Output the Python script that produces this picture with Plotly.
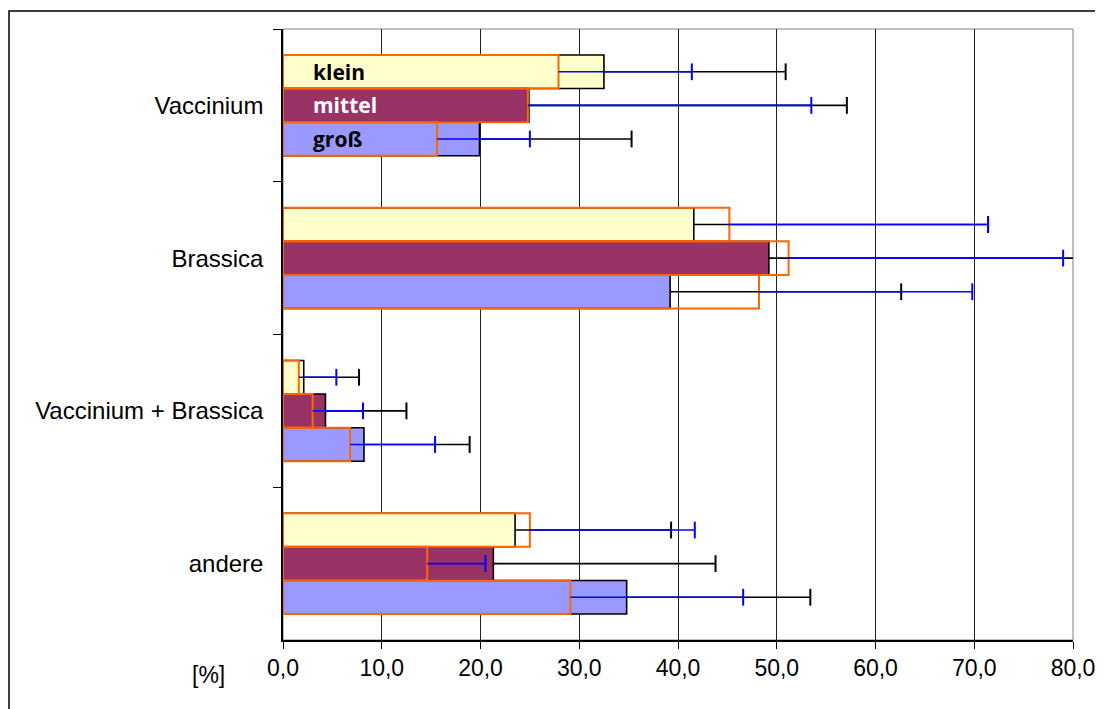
import plotly.graph_objects as go

# ---------------- data ----------------
categories = ["Vaccinium", "Brassica", "Vaccinium + Brassica", "andere"]
sizes = ["klein", "mittel", "groß"]

# series with black outline (filled bars, black error bars)
a_klein = [32.5, 41.6, 2.1, 23.5]
a_mittel = [24.9, 49.2, 4.3, 21.3]
a_gross = [19.9, 39.2, 8.2, 34.8]
a_err_klein = [18.4, 29.8, 5.6, 15.8]
a_err_mittel = [32.2, 31.5, 8.2, 22.5]
a_err_gross = [15.4, 23.4, 10.7, 18.6]

# series with orange outline (hollow bars, blue error bars)
b_klein = [27.9, 45.2, 1.6, 25.0]
b_mittel = [24.8, 51.2, 3.0, 14.6]
b_gross = [15.6, 48.2, 6.8, 29.1]
b_err_klein = [13.5, 26.2, 3.8, 16.7]
b_err_mittel = [28.7, 27.8, 5.1, 5.9]
b_err_gross = [9.4, 21.6, 8.6, 17.5]

x_ticks = [0, 10, 20, 30, 40, 50, 60, 70, 80]
unit_label = "[%]"

# ---------------- styles ----------------
fills = ["#FFFFCC", "#993366", "#9999FF"]
label_colors = ["black", "white", "black"]
BAR_W = 0.22
OFFSETS = [-0.33, -0.11, 0.11]
FONT = "Liberation Sans, Arial, sans-serif"

a_vals = [a_klein, a_mittel, a_gross]
a_errs = [a_err_klein, a_err_mittel, a_err_gross]
b_vals = [b_klein, b_mittel, b_gross]
b_errs = [b_err_klein, b_err_mittel, b_err_gross]

fig = go.Figure()

# black-outlined bars
for k in range(3):
    fig.add_trace(go.Bar(
        orientation="h", x=a_vals[k], y=categories, width=BAR_W, offset=OFFSETS[k],
        marker=dict(color=fills[k], line=dict(color="black", width=1.6)),
        showlegend=False, hoverinfo="skip"))

# orange-outlined bars (hollow)
for k in range(3):
    fig.add_trace(go.Bar(
        orientation="h", x=b_vals[k], y=categories, width=BAR_W, offset=OFFSETS[k],
        marker=dict(color="rgba(0,0,0,0)", line=dict(color="#FF6600", width=2)),
        showlegend=False, hoverinfo="skip"))


def err_traces(vals, errs, color):
    for k in range(3):
        xs, ys, cx, cy = [], [], [], []
        for i in range(len(categories)):
            yc = i + OFFSETS[k] + BAR_W / 2
            xs += [vals[k][i], vals[k][i] + errs[k][i], None]
            ys += [yc, yc, None]
            cx.append(vals[k][i] + errs[k][i])
            cy.append(yc)
        fig.add_trace(go.Scatter(
            x=xs, y=ys, yaxis="y2", mode="lines",
            line=dict(color=color, width=1.6), showlegend=False, hoverinfo="skip"))
        fig.add_trace(go.Scatter(
            x=cx, y=cy, yaxis="y2", mode="markers",
            marker=dict(symbol="line-ns", size=12, line=dict(color=color, width=2)),
            showlegend=False, hoverinfo="skip"))


err_traces(a_vals, a_errs, "black")
err_traces(b_vals, b_errs, "#0000FF")

annotations = []
for k in range(3):
    annotations.append(dict(
        xref="x", yref="y2", x=2.85, y=0 + OFFSETS[k] + BAR_W / 2,
        text="<b>" + sizes[k] + "</b>", showarrow=False, xanchor="left", yanchor="middle",
        font=dict(family="Open Sans, DejaVu Sans, sans-serif", size=21, color=label_colors[k])))

annotations.append(dict(
    xref="paper", yref="paper", x=(208 - 283) / 790, y=(640 - 675) / 611,
    text=unit_label, showarrow=False, xanchor="center", yanchor="middle",
    font=dict(family=FONT, size=23, color="black")))

# page body has an 8px margin: figure sized to fit the window
fig.update_layout(
    width=1095, height=701,
    margin=dict(l=275, r=30, t=21, b=69, pad=0, autoexpand=False),
    paper_bgcolor="white", plot_bgcolor="white",
    separators=", ",
    font=dict(family=FONT, size=23, color="black"),
    barmode="overlay",
    xaxis=dict(
        range=[0, 80], tickvals=x_ticks, tickformat=".1f", automargin=False,
        ticks="outside", ticklen=7, tickcolor="black", tickwidth=1,
        showline=True, linecolor="black", linewidth=1.5,
        showgrid=True, gridcolor="#222222", gridwidth=1, zeroline=False,
        tickfont=dict(family=FONT, size=23, color="black")),
    yaxis=dict(
        type="category", categoryorder="array", categoryarray=categories,
        range=[3.5, -0.5], tickson="boundaries", automargin=False,
        ticks="outside", ticklen=8, tickcolor="black", tickwidth=1,
        ticklabelstandoff=13,
        showline=True, linecolor="black", linewidth=1.5, showgrid=False, zeroline=False,
        tickfont=dict(family=FONT, size=24, color="black")),
    yaxis2=dict(overlaying="y", range=[3.5, -0.5], visible=False, showgrid=False,
                zeroline=False, automargin=False),
    annotations=annotations,
    shapes=[
        dict(type="rect", xref="paper", yref="paper", x0=0, x1=1, y0=0, y1=1,
             line=dict(color="#808080", width=1), layer="below"),
        dict(type="rect", xref="paper", yref="paper",
             x0=(1 - 275) / 790, x1=1.06, y0=-0.2, y1=(632 - 3) / 611,
             line=dict(color="black", width=1.5), layer="above"),
    ],
)

fig.write_html("out.html")
